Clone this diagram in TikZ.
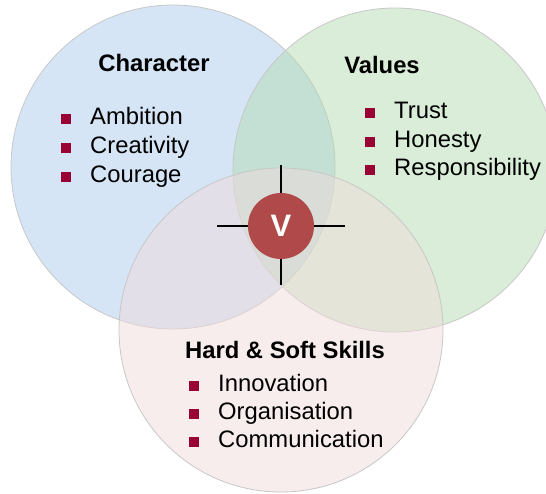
\documentclass[tikz,border=0pt]{standalone}
\usepackage{fontspec}
\setmainfont{Liberation Sans}
\definecolor{vennblue}{RGB}{171,203,235}
\definecolor{venngreen}{RGB}{179,219,177}
\definecolor{vennpink}{RGB}{241,219,219}
\definecolor{bulletred}{RGB}{153,0,51}
\definecolor{vred}{RGB}{176,74,74}
\newcommand{\bul}{\textcolor{bulletred}{\rule{10pt}{10pt}}\hspace{19pt}}
\begin{document}
\begin{tikzpicture}[x=1pt,y=-1pt,
  venn/.style={circle,draw=black!22,line width=0.8pt,fill opacity=0.5,minimum size=324pt,inner sep=0pt},
  heading/.style={anchor=base,inner sep=0pt,font=\fontsize{23.8}{28}\selectfont\bfseries},
  listitem/.style={anchor=base west,inner sep=0pt,font=\fontsize{23.8}{28}\selectfont}]
\useasboundingbox (0,0) rectangle (546,493);

\node[venn,fill=vennblue] (charcircle) at (173,167) {};
\node[venn,fill=venngreen] (valcircle) at (395,170) {};
\node[venn,fill=vennpink] (skillcircle) at (281,330) {};

% cross behind the V
\coordinate (crossN) at (281,165);
\coordinate (crossS) at (281,285);
\coordinate (crossW) at (217,226);
\coordinate (crossE) at (345,226);
\draw[line width=1.8pt] (crossN) -- (crossS);
\draw[line width=1.8pt] (crossW) -- (crossE);
\node[circle,fill=vred,minimum size=66pt,inner sep=0pt,text=white,font=\fontsize{31}{31}\selectfont\bfseries] (vmark) at (281,226) {V};

\node[heading] (character) at (154,71) {Character};
\node[listitem] (ambition) at (61,124) {\bul Ambition};
\node[listitem] (creativity) at (61,153) {\bul Creativity};
\node[listitem] (courage) at (61,182) {\bul Courage};

\node[heading] (values) at (382,73) {Values};
\node[listitem] (trust) at (365,118) {\bul Trust};
\node[listitem] (honesty) at (365,147) {\bul Honesty};
\node[listitem] (responsibility) at (365,175) {\bul Responsibility};

\node[heading] (skills) at (285,358) {Hard \& Soft Skills};
\node[listitem] (innovation) at (189,391) {\bul Innovation};
\node[listitem] (organisation) at (189,419) {\bul Organisation};
\node[listitem] (communication) at (189,447) {\bul Communication};
\end{tikzpicture}
\end{document}
